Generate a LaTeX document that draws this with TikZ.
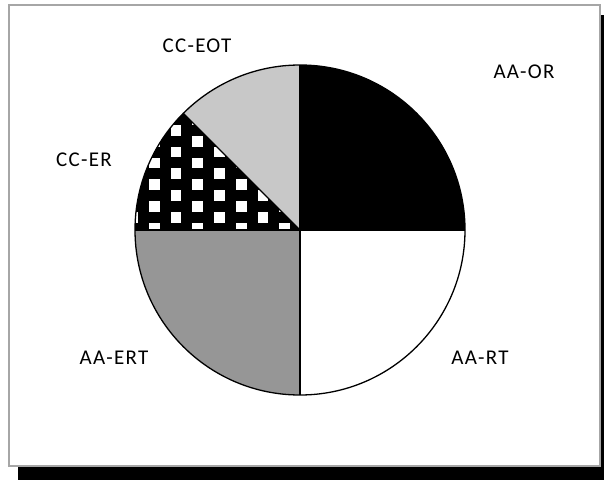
\documentclass[tikz,border=0pt]{standalone}
\usepackage{fontspec}
\setmainfont{Carlito}[LetterSpace=6]
\definecolor{ertgray}{HTML}{969696}
\definecolor{eotgray}{HTML}{C8C8C8}
\definecolor{framegray}{HTML}{A6A6A6}
\begin{document}
\begin{tikzpicture}[x=1pt,y=1pt,
	slice/.style={draw=black,line width=1.3pt,line join=round},
	lbl/.style={font=\fontsize{21}{25}\selectfont,inner sep=0pt}]
	\useasboundingbox (0,0) rectangle (604,480);
	% shadow and frame
	\fill[black] (18,0) rectangle (604,13);
	\fill[black] (601,0) rectangle (604,465);
	\draw[framegray,line width=2pt,fill=white] (8.5,14.5) rectangle (600,474.5);
	% pie
	\coordinate (c) at (300,250);
	\fill[black] (c) -- ++(0:165) arc[start angle=0,end angle=90,radius=165] -- cycle;
	\fill[white] (c) -- ++(-90:165) arc[start angle=-90,end angle=0,radius=165] -- cycle;
	\fill[ertgray] (c) -- ++(180:165) arc[start angle=180,end angle=270,radius=165] -- cycle;
	\fill[eotgray] (c) -- ++(90:165) arc[start angle=90,end angle=135,radius=165] -- cycle;
	\begin{scope}
		\clip (c) -- ++(135:165) arc[start angle=135,end angle=180,radius=165] -- cycle;
		\fill[black] (130,240) rectangle (305,420);
		\foreach \i in {-1,...,7}
			\foreach \j in {-4,...,3} {
				\pgfmathsetmacro\sqx{149+21.7*\i}
				\pgfmathsetmacro\sqy{290+21.7*\j+10.85*mod(\i+2,2)}
				\fill[white] (\sqx,\sqy) rectangle ++(10.7,10.7);
			}
	\end{scope}
	\draw[slice] (c) circle[radius=165];
	\foreach \a in {0,90,135,180,270}
		\draw[slice] (c) -- ++(\a:165);
	% labels
	\node[lbl] (aaor) at (524,408) {AA-OR};
	\node[lbl] (aart) at (480,122) {AA-RT};
	\node[lbl] (aaert) at (114,122) {AA-ERT};
	\node[lbl] (ccer) at (84,320) {CC-ER};
	\node[lbl] (cceot) at (197,434) {CC-EOT};
\end{tikzpicture}
\end{document}
